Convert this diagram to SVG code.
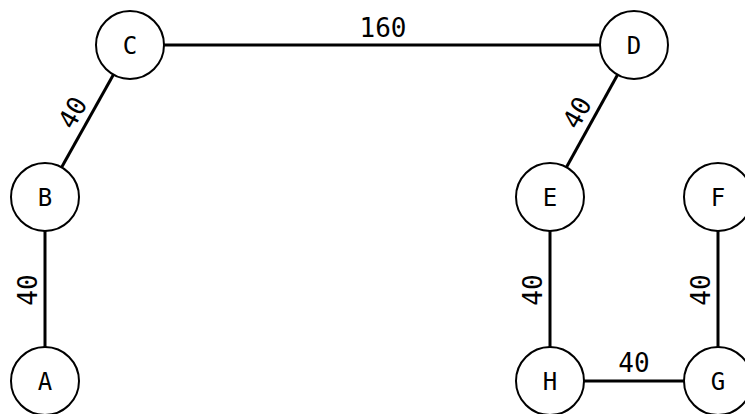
<svg xmlns="http://www.w3.org/2000/svg" width="745" height="414" viewBox="0 0 745 414">
  <style>
    .edge { stroke: #000; stroke-width: 3; fill: none; }
    .node circle { fill: #fff; stroke: #000; stroke-width: 2; }
    .node text { font-family: "DejaVu Sans Mono", "Liberation Mono", monospace; font-size: 24px; fill: #000; text-anchor: middle; }
    .weight { font-family: "DejaVu Sans Mono", "Liberation Mono", monospace; font-size: 26px; fill: #000; text-anchor: middle; }
  </style>
  <rect width="745" height="414" fill="#fff"/>

  <!-- connectors with their weights -->
  <g id="edges">
    <line class="edge" x1="45" y1="381" x2="45" y2="197"/>
    <line class="edge" x1="45" y1="197" x2="130" y2="45"/>
    <line class="edge" x1="130" y1="45" x2="634" y2="45"/>
    <line class="edge" x1="634" y1="45" x2="550" y2="197"/>
    <line class="edge" x1="550" y1="197" x2="550" y2="381"/>
    <line class="edge" x1="550" y1="381" x2="718" y2="381"/>
    <line class="edge" x1="718" y1="381" x2="718" y2="197"/>

    <text class="weight" transform="translate(45,290) rotate(-90)" y="-8">40</text>
    <text class="weight" transform="translate(87.5,121) rotate(-60.8)" y="-8">40</text>
    <text class="weight" x="383" y="37">160</text>
    <text class="weight" transform="translate(592,121) rotate(-61)" y="-8">40</text>
    <text class="weight" transform="translate(550,290) rotate(-90)" y="-8">40</text>
    <text class="weight" x="634" y="372">40</text>
    <text class="weight" transform="translate(718,290) rotate(-90)" y="-8">40</text>
  </g>

  <!-- nodes -->
  <g id="node-A" class="node"><circle cx="45" cy="381" r="34"/><text x="45" y="381" dy="0.36em">A</text></g>
  <g id="node-B" class="node"><circle cx="45" cy="197" r="34"/><text x="45" y="197" dy="0.36em">B</text></g>
  <g id="node-C" class="node"><circle cx="130" cy="45" r="34"/><text x="130" y="45" dy="0.36em">C</text></g>
  <g id="node-D" class="node"><circle cx="634" cy="45" r="34"/><text x="634" y="45" dy="0.36em">D</text></g>
  <g id="node-E" class="node"><circle cx="550" cy="197" r="34"/><text x="550" y="197" dy="0.36em">E</text></g>
  <g id="node-F" class="node"><circle cx="718" cy="197" r="34"/><text x="718" y="197" dy="0.36em">F</text></g>
  <g id="node-G" class="node"><circle cx="718" cy="381" r="34"/><text x="718" y="381" dy="0.36em">G</text></g>
  <g id="node-H" class="node"><circle cx="550" cy="381" r="34"/><text x="550" y="381" dy="0.36em">H</text></g>
</svg>
